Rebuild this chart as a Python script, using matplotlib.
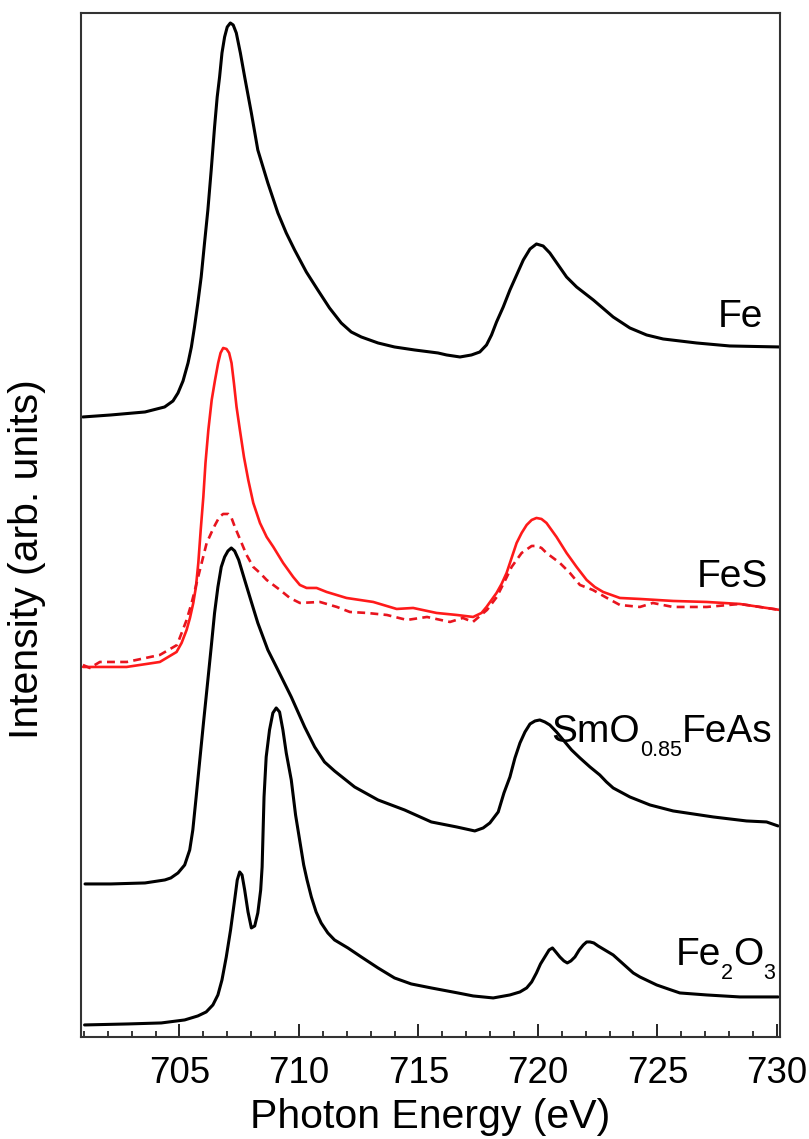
import matplotlib
matplotlib.use("Agg")
import matplotlib.pyplot as plt
from matplotlib.ticker import MultipleLocator

plt.rcParams["font.family"] = ["Liberation Sans", "DejaVu Sans"]


# 1. DATA (photon energy in eV, intensity in arb. units incl. vertical offsets)
fe_energy = [700.96, 702.13, 703.56, 704.38, 704.73, 704.94, 705.15, 705.36, 705.50, 705.63,
             705.77, 705.91, 706.05, 706.19, 706.33, 706.47, 706.58, 706.68, 706.78, 706.89,
             707.00, 707.13, 707.25, 707.38, 707.55, 707.73, 708.01, 708.28, 708.70, 709.12,
             709.47, 709.82, 710.31, 710.79, 711.28, 711.77, 712.19, 712.61, 713.31, 714.00,
             714.84, 715.82, 716.18, 716.74, 717.22, 717.57, 717.85, 718.06, 718.27, 718.55,
             718.83, 719.11, 719.39, 719.67, 719.94, 720.22, 720.50, 720.85, 721.20, 721.62,
             722.32, 723.15, 723.85, 724.55, 725.24, 726.64, 728.03, 730.13]
fe_int = [6.20, 6.22, 6.25, 6.30, 6.36, 6.44, 6.56, 6.74, 6.90, 7.10,
          7.34, 7.60, 7.94, 8.27, 8.67, 9.10, 9.40, 9.60, 9.84, 10.00,
          10.10, 10.14, 10.12, 10.04, 9.84, 9.60, 9.24, 8.87, 8.54, 8.24,
          8.04, 7.87, 7.65, 7.47, 7.29, 7.14, 7.05, 7.00, 6.94, 6.90,
          6.87, 6.84, 6.82, 6.80, 6.82, 6.85, 6.92, 7.02, 7.15, 7.30,
          7.47, 7.62, 7.77, 7.88, 7.93, 7.91, 7.84, 7.72, 7.60, 7.50,
          7.37, 7.20, 7.09, 7.02, 6.98, 6.94, 6.91, 6.90]

fes_energy = [700.97, 701.38, 702.79, 704.18, 704.88, 705.09, 705.30, 705.44, 705.58, 705.69,
              705.79, 705.89, 706.00, 706.09, 706.21, 706.35, 706.49, 706.62, 706.72, 706.83,
              706.97, 707.08, 707.18, 707.28, 707.39, 707.53, 707.70, 707.88, 708.09, 708.37,
              708.65, 708.93, 709.34, 709.76, 710.04, 710.32, 710.74, 711.16, 711.99, 713.11,
              713.81, 714.09, 714.78, 715.76, 716.60, 717.29, 717.64, 717.85, 718.06, 718.27,
              718.48, 718.69, 718.90, 719.11, 719.32, 719.53, 719.74, 719.94, 720.15, 720.36,
              720.57, 720.78, 720.99, 721.20, 721.62, 722.04, 722.38, 722.73, 723.43, 724.27,
              725.66, 727.06, 728.45, 729.29, 730.13]
fes_int = [3.70, 3.70, 3.70, 3.75, 3.85, 3.94, 4.07, 4.19, 4.34, 4.50,
           4.74, 5.07, 5.40, 5.74, 6.07, 6.37, 6.57, 6.74, 6.84, 6.89,
           6.88, 6.84, 6.74, 6.54, 6.30, 6.07, 5.80, 5.57, 5.34, 5.14,
           5.00, 4.90, 4.74, 4.60, 4.52, 4.49, 4.49, 4.45, 4.39, 4.35,
           4.30, 4.28, 4.29, 4.24, 4.22, 4.20, 4.24, 4.30, 4.37, 4.44,
           4.53, 4.64, 4.79, 4.94, 5.04, 5.12, 5.17, 5.19, 5.18, 5.14,
           5.07, 5.00, 4.92, 4.84, 4.70, 4.57, 4.50, 4.45, 4.39, 4.38,
           4.36, 4.35, 4.33, 4.30, 4.27]

fes2_energy = [700.96, 701.25, 701.67, 702.80, 704.18, 704.90, 705.30, 705.51, 705.72, 705.93,
               706.14, 706.35, 706.49, 706.67, 706.83, 707.04, 707.18, 707.32, 707.46, 707.60,
               707.81, 708.09, 708.37, 708.65, 709.21, 709.62, 710.04, 710.88, 711.59, 712.13,
               712.85, 713.68, 714.52, 715.36, 716.32, 716.86, 717.28, 717.87, 718.28, 718.70,
               718.90, 719.32, 719.74, 719.94, 720.15, 720.36, 720.92, 721.34, 721.76, 722.30,
               722.89, 723.43, 724.27, 724.81, 725.65, 727.07, 728.45, 729.29, 730.13]
fes2_int = [3.72, 3.69, 3.75, 3.75, 3.82, 3.92, 4.17, 4.34, 4.54, 4.74,
            4.94, 5.05, 5.12, 5.20, 5.23, 5.23, 5.19, 5.10, 5.02, 4.94,
            4.82, 4.70, 4.64, 4.57, 4.47, 4.39, 4.34, 4.35, 4.30, 4.25,
            4.24, 4.22, 4.17, 4.20, 4.15, 4.19, 4.15, 4.27, 4.40, 4.60,
            4.70, 4.84, 4.91, 4.91, 4.89, 4.84, 4.74, 4.64, 4.52, 4.47,
            4.39, 4.32, 4.30, 4.34, 4.30, 4.30, 4.33, 4.30, 4.27]

smo_energy = [701.05, 702.13, 703.56, 704.39, 704.64, 704.94, 705.22, 705.43, 705.56, 705.70,
              705.84, 706.01, 706.19, 706.33, 706.47, 706.61, 706.75, 706.89, 707.03, 707.17,
              707.31, 707.48, 707.73, 708.01, 708.28, 708.70, 709.12, 709.68, 710.24, 710.66,
              711.07, 711.49, 712.33, 713.31, 714.42, 715.54, 716.60, 717.36, 717.71, 717.99,
              718.34, 718.58, 718.83, 719.04, 719.25, 719.46, 719.67, 719.88, 720.08, 720.29,
              720.50, 720.78, 721.06, 721.41, 721.76, 722.18, 722.59, 722.87, 723.15, 723.85,
              724.69, 725.66, 727.34, 728.73, 729.57, 730.05]
smo_int = [1.53, 1.53, 1.54, 1.57, 1.59, 1.64, 1.72, 1.87, 2.07, 2.40,
           2.74, 3.15, 3.57, 3.90, 4.24, 4.50, 4.70, 4.80, 4.86, 4.89,
           4.86, 4.77, 4.57, 4.35, 4.14, 3.87, 3.67, 3.40, 3.10, 2.90,
           2.75, 2.66, 2.50, 2.37, 2.27, 2.15, 2.10, 2.06, 2.09, 2.14,
           2.25, 2.44, 2.60, 2.79, 2.94, 3.05, 3.13, 3.16, 3.17, 3.15,
           3.12, 3.05, 2.97, 2.87, 2.79, 2.70, 2.62, 2.55, 2.49, 2.40,
           2.32, 2.26, 2.20, 2.16, 2.15, 2.11]

fe2o3_energy = [701.03, 702.85, 704.24, 705.22, 705.77, 706.12, 706.40, 706.61, 706.78, 706.96,
                707.14, 707.31, 707.42, 707.52, 707.62, 707.73, 707.87, 708.01, 708.15, 708.28,
                708.40, 708.46, 708.54, 708.63, 708.77, 708.91, 709.05, 709.19, 709.33, 709.47,
                709.68, 709.86, 710.03, 710.20, 710.34, 710.52, 710.72, 710.93, 711.21, 711.49,
                712.05, 712.61, 713.31, 714.00, 714.70, 715.54, 716.65, 717.29, 718.13, 718.83,
                719.25, 719.53, 719.74, 719.94, 720.11, 720.29, 720.47, 720.61, 720.75, 720.92,
                721.09, 721.23, 721.38, 721.55, 721.73, 721.90, 722.04, 722.18, 722.34, 722.52,
                722.80, 723.15, 723.43, 723.71, 723.99, 724.27, 724.62, 724.97, 725.45, 725.94,
                727.06, 728.45, 730.05]
fe2o3_int = [0.12, 0.13, 0.14, 0.17, 0.21, 0.25, 0.32, 0.42, 0.57, 0.80,
             1.07, 1.37, 1.57, 1.65, 1.62, 1.47, 1.25, 1.09, 1.11, 1.24,
             1.47, 1.70, 2.40, 2.80, 3.07, 3.24, 3.29, 3.25, 3.07, 2.84,
             2.57, 2.22, 1.97, 1.72, 1.57, 1.40, 1.25, 1.14, 1.04, 0.97,
             0.89, 0.80, 0.69, 0.59, 0.53, 0.49, 0.44, 0.41, 0.39, 0.42,
             0.45, 0.49, 0.55, 0.64, 0.73, 0.80, 0.87, 0.89, 0.85, 0.80,
             0.76, 0.74, 0.76, 0.80, 0.87, 0.92, 0.95, 0.95, 0.94, 0.91,
             0.87, 0.82, 0.76, 0.70, 0.64, 0.60, 0.56, 0.52, 0.48, 0.44,
             0.42, 0.40, 0.40]

# label pieces: (text, is_subscript), right edge and baseline in data units
label_parts = [
    [("Fe", False)],
    [("FeS", False)],
    [("SmO", False), ("0.85", True), ("FeAs", False)],
    [("Fe", False), ("2", True), ("O", False), ("3", True)],
]
label_right = [729.41, 729.62, 729.83, 729.92]
label_base = [7.10, 4.50, 2.95, 0.72]


# 2. PLOT
def draw_label(ax, parts, x_right, y_base, size=28, sub_size=15.5, sub_drop=10):
    # build the label from right to left so its right edge sits at x_right
    prev = None
    for text, is_sub in reversed(parts):
        fs = sub_size if is_sub else size
        dy = -sub_drop if is_sub else 0
        if prev is None:
            xy, coords = (x_right, y_base), "data"
        else:
            xy, coords = (0, y_base), (prev, "data")
        prev = ax.annotate(text, xy=xy, xycoords=coords, xytext=(0, dy),
                           textcoords="offset points", ha="right", va="baseline",
                           fontsize=fs)


fig = plt.figure(figsize=(8.09, 11.39), dpi=100)
ax = fig.add_axes([0.1001, 0.0896, 0.8640, 0.8990])

line_kw = dict(solid_joinstyle="round", solid_capstyle="round")
ax.plot(fe_energy, fe_int, color="black", lw=2.2, **line_kw)
ax.plot(fes_energy, fes_int, color="#ff1a1a", lw=1.9, **line_kw)
ax.plot(fes2_energy, fes2_int, color="#e8141e", lw=1.9, linestyle=(0, (3, 2)),
        dash_joinstyle="round")
ax.plot(smo_energy, smo_int, color="black", lw=2.2, **line_kw)
ax.plot(fe2o3_energy, fe2o3_int, color="black", lw=2.2, **line_kw)

for parts, xr, yb in zip(label_parts, label_right, label_base):
    draw_label(ax, parts, xr, yb)

ax.set_xlim(700.88, 730.13)
ax.set_ylim(0, 10.24)

ax.xaxis.set_major_locator(MultipleLocator(5))
ax.xaxis.set_minor_locator(MultipleLocator(1))
ax.set_yticks([])
ax.tick_params(axis="x", which="major", direction="in", length=9.5, width=1.2,
               labelsize=26.5, pad=14)
ax.tick_params(axis="x", which="minor", direction="in", length=4.5, width=1.1)

for spine in ax.spines.values():
    spine.set_linewidth(1.5)
    spine.set_color("#333333")

ax.set_xlabel("Photon Energy (eV)", fontsize=29.5, labelpad=5)
ax.set_ylabel("Intensity (arb. units)", fontsize=29.5)
ax.yaxis.set_label_coords(-0.05, 0.467)

fig.savefig("out.png", dpi=100)
